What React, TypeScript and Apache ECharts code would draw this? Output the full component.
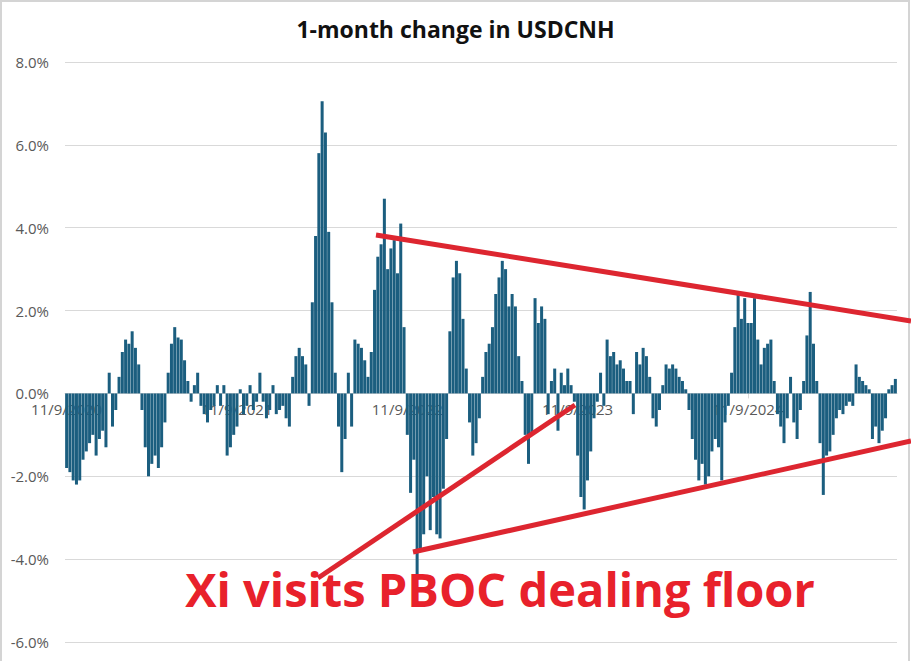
import React, { useEffect, useRef } from "react";
import * as echarts from "echarts";

const TITLE = "1-month change in USDCNH";
const ANNOTATION = "Xi visits PBOC dealing floor";
const TICK_LABELS = ["11/9/2020", "11/9/2021", "11/9/2022", "11/9/2023", "11/9/2024"];
const WEEKS_PER_LABEL = 52;

// weekly 1-month % change
const seg2020 = [
  -1.8, -1.9, -2.1, -2.2, -2.1, -1.6, -1.4, -1.2, -1.0, -1.5, -1.1, -0.9, -1.3,
  0.5, -0.8, -0.4, 0.4, 1.0, 1.3, 1.2, 1.5, 1.1, 0.7,
  -0.4, -1.3, -2.0, -1.7, -1.5, -1.8, -1.3, -0.7,
  0.5, 1.2, 1.6, 1.35, 1.3, 0.8,
  0.3, -0.2, 0.2, 0.5, -0.3, -0.5, -0.7, -0.4, -0.3,
  0.2, -0.3, 0.2, -1.5, -1.3, -1.0,
];
const seg2021 = [
  -0.8, 0.1, -0.5, -0.3, 0.2, -0.4, -0.2, 0.5,
  -0.2, -0.6, -0.4, 0.2, -0.5, -0.4, -0.3, -0.6, -0.8,
  0.4, 0.9, 1.1, 0.9, 0.7,
  -0.3, 2.2, 3.8, 5.8, 7.05, 6.3, 3.9, 2.2, 0.5,
  -0.8, -1.9, -1.1, 0.5, -0.8,
  1.3, 1.2, 1.1, 0.8,
  0.4, 1.0, 2.5, 3.3, 3.6, 4.7, 3.0, 3.5, 3.7, 2.9, 4.1, 1.6,
];
const seg2022 = [
  -1.0, -2.4, -1.6, -4.4, -3.8, -3.4, -2.0, -3.3, -2.5, -3.4, -3.5, -2.3, -1.1,
  1.5, 2.8, 3.2, 2.9, 1.8, 0.6,
  -0.7, -1.5, -1.2, -0.6,
  0.4, 1.0, 1.2, 1.6, 2.4, 2.8, 3.2, 3.0, 2.1, 2.4, 2.1, 0.9, 0.3,
  -1.0, -1.7, -1.0,
  2.3, 1.7, 2.1, 1.8,
  -0.5, 0.3, 0.6, -0.9, 0.5, 0.2, 0.6, 0.2, -0.2,
];
const seg2023 = [
  -1.5, -2.5, -2.8, -2.1, -1.4, -0.6,
  -0.2, 0.5, -0.3, 1.3, 0.9, 1.0, 0.7, 0.8,
  0.6, 0.3, 0.3, -0.5,
  1.0, 0.7, 1.1, 0.9, 0.4,
  -0.6, -0.8, -0.4,
  0.2, 0.7, 0.6, 0.7, 0.6, 0.4, 0.3, 0.1,
  -0.4, -1.1, -1.6, -2.1, -1.7, -2.2, -2.0, -1.4, -1.1, -1.3, -2.1, -0.7, -0.3,
  0.5, 1.6, 2.4, 1.8, 2.3,
];
const seg2024 = [
  1.7, 1.7, 2.3, 1.3, 0.7, 1.1, 1.2, 1.3, 0.3,
  -0.5, -0.8, -1.2, -0.6, 0.4, -0.7, -1.1, -0.4,
  0.3, 1.4, 2.45, 1.2, 0.3,
  -1.2, -2.45, -1.5, -1.4, -1.0, -0.6, -0.4, -0.5, -0.3,
  -0.2, -0.3, 0.7, 0.4, 0.3, 0.2, 0.1,
  -1.1, -0.8, -1.2, -0.9, -0.6,
  0.1, 0.2, 0.35,
];

const VALUES = [...seg2020, ...seg2021, ...seg2022, ...seg2023, ...seg2024];
const CATEGORIES = VALUES.map((_, i) => String(i));

const Y_MIN = -6;
const Y_MAX = 8;
const Y_STEP = 2;

const CHART_W = 911;
const CHART_H = 661;
const GRID = { left: 65, right: 14, top: 62, bottom: 19 };

export default function App() {
  const ref = useRef<HTMLDivElement>(null);
  useEffect(() => {
    if (!ref.current) return;
    const chart = echarts.init(ref.current, null, { renderer: "svg" });
    const red = "#dd2630";
    const plotH = CHART_H - GRID.top - GRID.bottom;
    const zeroOffset = -(plotH * (0 - Y_MIN)) / (Y_MAX - Y_MIN);
    chart.setOption({
      animation: false,
      backgroundColor: "#ffffff",
      title: {
        text: TITLE,
        left: "center",
        top: 12,
        textStyle: { fontFamily: "Open Sans", fontWeight: "bold", fontSize: 23, color: "#111" },
      },
      grid: { ...GRID, containLabel: false },
      xAxis: {
        type: "category",
        data: CATEGORIES,
        offset: zeroOffset,
        axisLine: { onZero: false, lineStyle: { color: "#d9d9d9", width: 1 } },
        axisTick: {
          show: true,
          length: 5,
          alignWithLabel: true,
          interval: (i: number) => i % WEEKS_PER_LABEL === 0,
          lineStyle: { color: "#d9d9d9" },
        },
        axisLabel: {
          interval: (i: number) => i % WEEKS_PER_LABEL === 0,
          formatter: (_v: string, i: number) => TICK_LABELS[i / WEEKS_PER_LABEL] ?? "",
          color: "#595959",
          fontFamily: "Open Sans",
          fontSize: 15,
          margin: 8,
        },
        splitLine: { show: false },
      },
      yAxis: {
        type: "value",
        min: Y_MIN,
        max: Y_MAX,
        interval: Y_STEP,
        axisLine: { show: false },
        axisTick: { show: false },
        axisLabel: {
          formatter: (v: number) => v.toFixed(1) + "%",
          color: "#595959",
          fontFamily: "Open Sans",
          fontSize: 15,
          margin: 16,
        },
        splitLine: { lineStyle: { color: "#d9d9d9", width: 1 } },
      },
      series: [
        {
          type: "bar",
          data: VALUES,
          barCategoryGap: "8%",
          itemStyle: { color: "#1b5e7f" },
        },
      ],
      graphic: [
        {
          type: "rect",
          shape: { x: 1, y: 1, width: 908, height: 670 },
          style: { fill: "none", stroke: "#d4d4d4", lineWidth: 2 },
          silent: true,
        },
        {
          type: "line",
          shape: { x1: 376, y1: 235, x2: 911, y2: 321 },
          style: { stroke: red, lineWidth: 5 },
          z: 100,
        },
        {
          type: "line",
          shape: { x1: 413, y1: 552, x2: 911, y2: 441 },
          style: { stroke: red, lineWidth: 5 },
          z: 100,
        },
        {
          type: "line",
          shape: { x1: 318, y1: 578, x2: 575, y2: 405 },
          style: { stroke: red, lineWidth: 5 },
          z: 100,
        },
        {
          type: "text",
          x: 500,
          y: 589,
          style: {
            text: ANNOTATION,
            fill: "#e8212b",
            font: "bold 47px 'Open Sans'",
            align: "center",
            verticalAlign: "middle",
          },
          z: 101,
        },
      ],
    });
    return () => chart.dispose();
  }, []);
  return (
    <div
      ref={ref}
      style={{ position: "fixed", left: 0, top: 0, width: CHART_W, height: CHART_H, background: "#fff" }}
    />
  );
}
